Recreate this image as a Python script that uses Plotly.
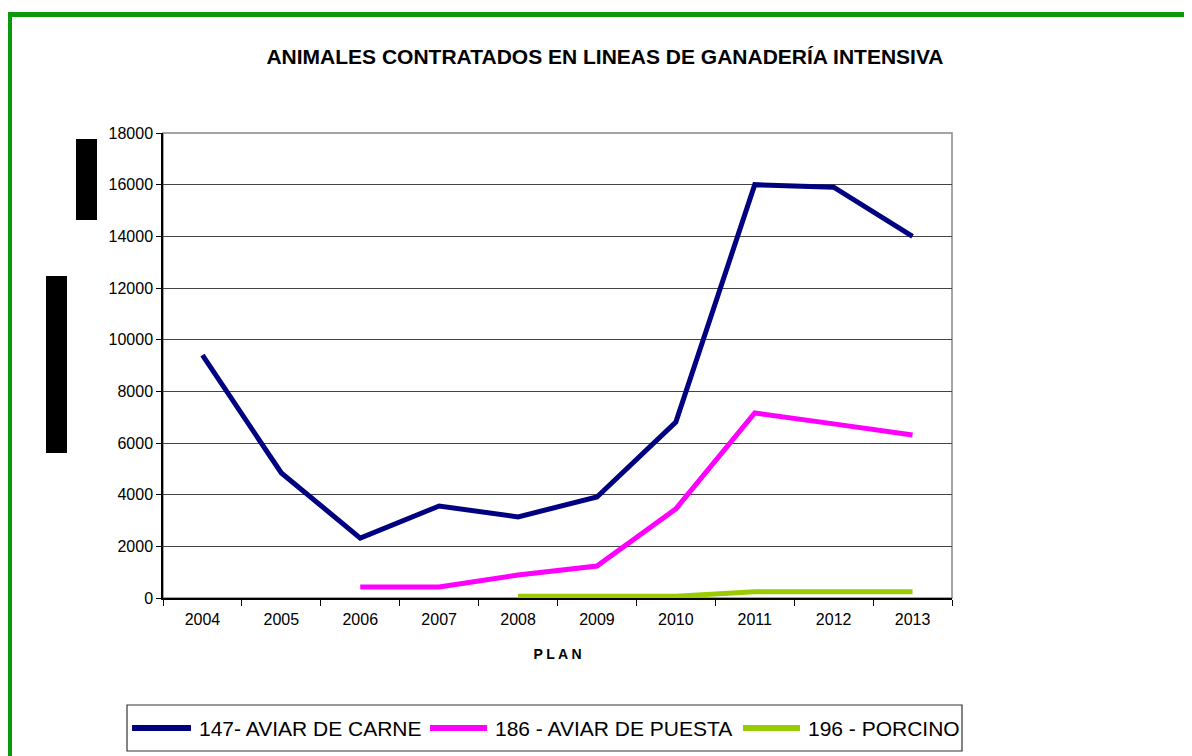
import plotly.graph_objects as go

years = ["2004", "2005", "2006", "2007", "2008", "2009", "2010", "2011", "2012", "2013"]
carne = [9400, 4840, 2320, 3560, 3140, 3910, 6810, 16000, 15900, 14000]
puesta = [None, None, 425, 425, 890, 1240, 3450, 7160, 6740, 6310]
porcino = [None, None, None, None, 70, 70, 70, 240, 240, 240]
names = ["147- AVIAR DE CARNE", "186 - AVIAR DE PUESTA", "196 - PORCINO"]
colors = ["#000080", "#FF00FF", "#99CC00"]

OFF = 8  # page body margin
W, H = 1192 - OFF, 756 - OFF
L, T = 163 - OFF, 133 - OFF
R = W - (952 - OFF)
B = H - (598 - OFF)
pw, ph = W - L - R, H - T - B

def px(x):  # reference screen x -> paper
    return (x - OFF - L) / pw

def py(y):  # reference screen y -> paper
    return (H - B - (y - OFF)) / ph

fig = go.Figure()
for vals, n, c in zip([carne, puesta, porcino], names, colors):
    fig.add_trace(go.Scatter(x=years, y=vals, name=n, mode="lines",
                             line=dict(color=c, width=5), connectgaps=False,
                             showlegend=False))

shapes = [
    # outer green frame
    dict(type="rect", xref="paper", yref="paper", x0=px(9.5), x1=px(1215), y0=py(790), y1=py(14.5),
         line=dict(color="#0b990b", width=5), layer="below"),
    # plot border
    dict(type="rect", xref="paper", yref="paper", x0=0, x1=1, y0=0, y1=1,
         line=dict(color="#888888", width=1.5), layer="below"),
    # black boxes on the left
    dict(type="rect", xref="paper", yref="paper", x0=px(76), x1=px(97), y0=py(220), y1=py(139),
         fillcolor="black", line=dict(width=0)),
    dict(type="rect", xref="paper", yref="paper", x0=px(46), x1=px(67), y0=py(453), y1=py(276),
         fillcolor="black", line=dict(width=0)),
    # legend box
    dict(type="rect", xref="paper", yref="paper", x0=px(127), x1=px(962), y0=py(751), y1=py(705),
         line=dict(color="#333333", width=1.2), fillcolor="white"),
]

annotations = []
leg_sym = [(132, 191), (430, 487), (743, 800)]
leg_txt = [197, 493, 806]
ly = py(728)
for (s0, s1), tx, n, c in zip(leg_sym, leg_txt, names, colors):
    shapes.append(dict(type="line", xref="paper", yref="paper", x0=px(s0), x1=px(s1), y0=ly, y1=ly,
                       line=dict(color=c, width=6)))
    annotations.append(dict(text=n, xref="paper", yref="paper", x=px(tx), y=ly, xanchor="left",
                            yanchor="middle", showarrow=False,
                            font=dict(size=21, family="Liberation Sans, Arial", color="black")))

fig.update_layout(
    width=W, height=H,
    margin=dict(l=L, r=R, t=T, b=B, autoexpand=False),
    paper_bgcolor="white", plot_bgcolor="white",
    font=dict(family="Liberation Sans, Arial, sans-serif", color="black", size=15),
    title=dict(text="<b>ANIMALES CONTRATADOS EN LINEAS DE GANADERÍA INTENSIVA</b>",
               xref="container", x=(605 - OFF) / W, xanchor="center",
               y=1 - (57 - OFF) / H, yanchor="middle",
               font=dict(size=21, color="black")),
    showlegend=False,
    shapes=shapes,
    annotations=annotations,
)
fig.update_xaxes(type="category", range=[-0.5, 9.5], tickson="boundaries", ticks="outside",
                 ticklen=6, tickcolor="black", showline=True, linecolor="black", linewidth=1.5,
                 showgrid=False, tickfont=dict(size=16), automargin=False, ticklabelstandoff=6,
                 title=dict(text="<b>P L A N</b>", font=dict(size=14), standoff=22))
fig.update_yaxes(range=[0, 18000], dtick=2000, ticks="outside", ticklen=5, tickcolor="black",
                 showline=True, linecolor="black", linewidth=1.5, showgrid=True,
                 gridcolor="#444444", gridwidth=1, zeroline=False, tickfont=dict(size=16),
                 tickformat="d", automargin=False)

fig.write_html("out.html")
